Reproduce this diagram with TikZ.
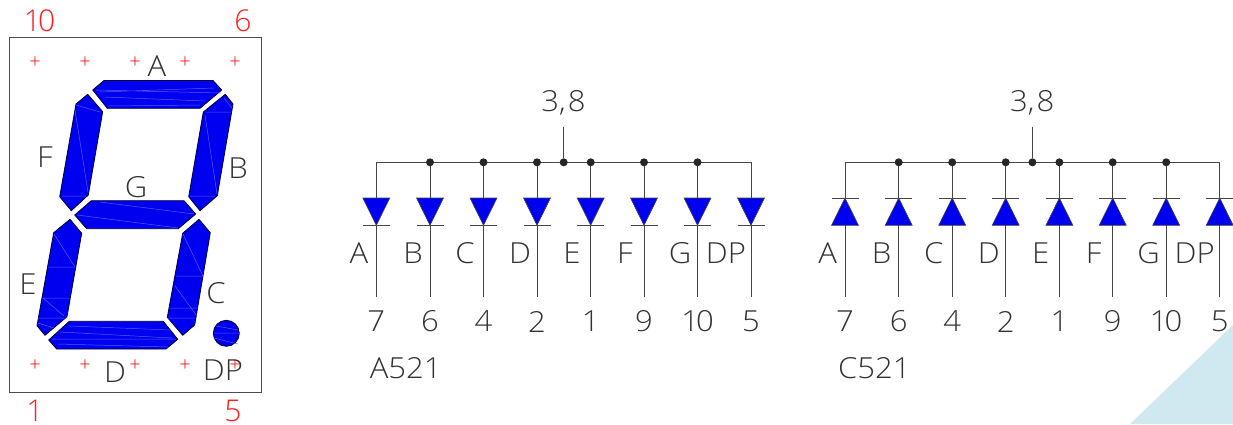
\documentclass[tikz,border=0pt]{standalone}
\usepackage{fontspec}
\setmainfont[FakeStretch=1.07]{Open Sans Light}
\newfontfamily\redfont{Open Sans Light}
\usetikzlibrary{calc}
\definecolor{segblue}{RGB}{0,0,240}
\definecolor{seglight}{RGB}{90,90,255}
\definecolor{cornertri}{RGB}{208,232,240}
\definecolor{labelink}{RGB}{50,50,50}
\definecolor{wire}{RGB}{70,70,70}
\definecolor{crossred}{RGB}{255,0,0}
\definecolor{pinred}{RGB}{255,30,30}
\newcommand{\tenlab}{1\kern-3bp 0}
\tikzset{
  x=1bp,y=-1bp,
  seg/.style={fill=segblue,draw=black!80!blue,line width=0.8bp,line join=round},
  streak/.style={draw=seglight,line width=0.5bp},
  lab/.style={font=\fontsize{29bp}{31bp}\selectfont,text=labelink,inner sep=0pt,anchor=center},
  redlab/.style={font=\redfont\fontsize{30bp}{32bp}\selectfont,text=pinred,inner sep=0pt,anchor=center},
  padmark/.style={font=\redfont\fontsize{20bp}{22bp}\selectfont,text=crossred,inner sep=0pt,anchor=center},
  wireline/.style={draw=wire,line width=1bp},
  diodebody/.style={fill=segblue,draw=wire,line width=0.6bp},
  junction/.style={circle,fill=black!85,draw=none,minimum size=8bp,inner sep=0pt},
}
% #1 prefix, #2 x offset, #3 1=diode pointing down, 0=up, #4 part name
\newcommand{\schem}[4]{%
  \def\pfx{#1}\def\off{#2}%
  \coordinate (\pfx bL) at (\off+376.3,162.3);
  \coordinate (\pfx bR) at (\off+751,162.3);
  \draw[wireline] (\pfx bL) -- (\pfx bR);
  \foreach \n/\xx/\lbl/\lx/\pin in {1/376.3/A/359/7,2/430/B/413/6,3/483.5/C/465/4,4/537/D/520/2,5/590.7/E/572/1,6/644/F/625/9,7/697.5/G/680/\tenlab,8/751/DP/726/5}{
    \coordinate (\pfx t\n) at (\off+\xx,162.3);
    \coordinate (\pfx u\n) at (\off+\xx,198);
    \coordinate (\pfx l\n) at (\off+\xx,225.3);
    \coordinate (\pfx e\n) at (\off+\xx,296.7);
    \draw[wireline] (\pfx t\n) -- (\pfx u\n);
    \draw[wireline] (\pfx l\n) -- (\pfx e\n);
    \ifnum#3=1
      \draw[diodebody] ($(\pfx u\n)+(-13.5,0)$) -- ($(\pfx u\n)+(13.5,0)$) -- (\pfx l\n) -- cycle;
      \draw[wireline] ($(\pfx l\n)+(-13.5,0)$) -- ($(\pfx l\n)+(13.5,0)$);
    \else
      \draw[diodebody] ($(\pfx l\n)+(-13.5,0)$) -- ($(\pfx l\n)+(13.5,0)$) -- (\pfx u\n) -- cycle;
      \draw[wireline] ($(\pfx u\n)+(-13.5,0)$) -- ($(\pfx u\n)+(13.5,0)$);
    \fi
    \node[lab] (\pfx name\n) at (\off+\lx,253) {\lbl};
    \node[lab] (\pfx pin\n) at (\off+\xx,321.5) {\pin};
    \ifnum\n>1 \ifnum\n<8
      \node[junction] (\pfx dot\n) at (\pfx t\n) {};
    \fi\fi
  }
  \node[junction] (\pfx stubdot) at (\off+563.7,162.3) {};
  \coordinate (\pfx stubtop) at (\off+563.7,126.7);
  \draw[wireline] (\pfx stubtop) -- (\pfx stubdot);
  \node[lab] (\pfx common) at (\off+563.5,102.5) {3,\kern2bp 8};
  \node[lab] (\pfx part) at (\off+405.7,368) {#4};
}
\begin{document}
\begin{tikzpicture}
\useasboundingbox (0,0) rectangle (1233,424);
\fill[cornertri] (1130,424) -- (1233,325) -- (1233,424) -- cycle;

% package outline
\draw[draw=black!70,line width=1bp] (9.5,37.5) rectangle (261,392.5);
\node[redlab] (p10) at (39.5,21) {\tenlab};
\node[redlab] (p6) at (243,21) {6};
\node[redlab] (p1) at (35,411) {1};
\node[redlab] (p5) at (233,411) {5};

% segments
\draw[seg] (92.7,90) -- (104,80.5) -- (213,80.5) -- (221.7,90) -- (200,108.3) -- (107.3,108.3) -- cycle;
\draw[seg] (76,104) -- (87.7,94.3) -- (102.7,111.7) -- (88.3,195) -- (71.3,210.7) -- (59.7,196.7) -- cycle;
\draw[seg] (203.3,112) -- (225.3,94.3) -- (233,104) -- (217.3,195.7) -- (200,210.7) -- (188.7,196.7) -- cycle;
\draw[seg] (74.7,215) -- (91.3,200.7) -- (184,200.7) -- (195.7,214) -- (178.3,228.7) -- (86.7,228.7) -- cycle;
\draw[seg] (53.7,232.7) -- (70,219.3) -- (81.7,233.3) -- (67,316.7) -- (45,335.3) -- (37,325.7) -- cycle;
\draw[seg] (182.7,233.3) -- (199,219.3) -- (210.3,232.7) -- (194.7,325) -- (182.7,335.3) -- (167.3,317.3) -- cycle;
\draw[seg] (48.7,340) -- (69.3,321.3) -- (163.3,321.3) -- (177.7,339.3) -- (166,349) -- (56.7,349) -- cycle;
\draw[seg] (226.3,333.3) circle (13);

% facet streaks
\draw[streak] (100,92) -- (214,88) (96,90) -- (220,93) (105,97) -- (205,101) (108,106) -- (200,105);
\draw[streak] (76,105) -- (100,112) (75,110) -- (88,192) (62,196) -- (86,196);
\draw[streak] (224,98) -- (232,108) (206,112) -- (231,112) (205,115) -- (217,194) (190,196) -- (215,196);
\draw[streak] (100,202) -- (194,214) (77,215) -- (178,228);
\draw[streak] (54,234) -- (75,267) (48,267) -- (74,267) (43,298) -- (70,298) (43,298) -- (64,316) (38,318) -- (66,318) (38,323) -- (54,328);
\draw[streak] (183,234) -- (203,276) (176,276) -- (203,276) (170,308) -- (198,308) (175,286) -- (197,316) (168,318) -- (195,318);
\draw[streak] (70,326) -- (170,330) (60,332) -- (172,338) (52,339) -- (176,339) (58,344) -- (168,347);
\draw[streak] (216,326) -- (238,330) (214,333) -- (239,333) (214,338) -- (238,344);

% segment labels
\node[lab] (la) at (157,66) {A};
\node[lab] (lf) at (45,157) {F};
\node[lab] (lb) at (238,168) {B};
\node[lab] (lg) at (136,187) {G};
\node[lab] (le) at (28,284) {E};
\node[lab] (lc) at (216,293) {C};
\node[lab] (ld) at (115,372) {D};
\node[lab] (ldp) at (223,370) {DP};

\schem{a}{0}{1}{A521}
\schem{c}{468.7}{0}{C521}

% pad marks
\foreach \k/\cx in {1/35,2/85,3/135,4/185,5/235}{
  \node[padmark] (padb\k) at (\cx,366) {+};
  \node[padmark] (padt\k) at (\cx,63) {+};
}
\end{tikzpicture}
\end{document}
